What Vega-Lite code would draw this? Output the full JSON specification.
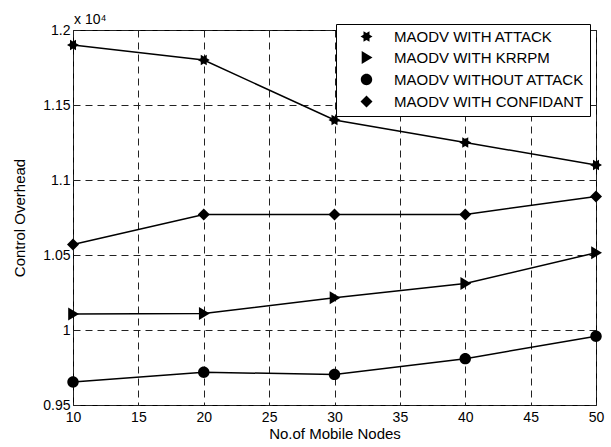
{
  "$schema": "https://vega.github.io/schema/vega-lite/v6.json",
  "width": 523,
  "height": 375,
  "autosize": {"type": "none"},
  "padding": {"left": 73, "top": 30, "right": 15, "bottom": 42},
  "background": "white",
  "title": {"text": "x 10⁴", "anchor": "start", "frame": "group", "fontSize": 14, "font": "Liberation Sans", "fontWeight": "normal", "color": "black", "offset": 1, "dx": 1, "dy": 5},
  "data": {"values": [
    {"series": "MAODV WITH ATTACK", "nodes": 10, "overhead": 11900},
    {"series": "MAODV WITH ATTACK", "nodes": 20, "overhead": 11800},
    {"series": "MAODV WITH ATTACK", "nodes": 30, "overhead": 11400},
    {"series": "MAODV WITH ATTACK", "nodes": 40, "overhead": 11250},
    {"series": "MAODV WITH ATTACK", "nodes": 50, "overhead": 11100},
    {"series": "MAODV WITH KRRPM", "nodes": 10, "overhead": 10107},
    {"series": "MAODV WITH KRRPM", "nodes": 20, "overhead": 10110},
    {"series": "MAODV WITH KRRPM", "nodes": 30, "overhead": 10215},
    {"series": "MAODV WITH KRRPM", "nodes": 40, "overhead": 10310},
    {"series": "MAODV WITH KRRPM", "nodes": 50, "overhead": 10515},
    {"series": "MAODV WITHOUT ATTACK", "nodes": 10, "overhead": 9653},
    {"series": "MAODV WITHOUT ATTACK", "nodes": 20, "overhead": 9718},
    {"series": "MAODV WITHOUT ATTACK", "nodes": 30, "overhead": 9704},
    {"series": "MAODV WITHOUT ATTACK", "nodes": 40, "overhead": 9809},
    {"series": "MAODV WITHOUT ATTACK", "nodes": 50, "overhead": 9958},
    {"series": "MAODV WITH CONFIDANT", "nodes": 10, "overhead": 10570},
    {"series": "MAODV WITH CONFIDANT", "nodes": 20, "overhead": 10770},
    {"series": "MAODV WITH CONFIDANT", "nodes": 30, "overhead": 10770},
    {"series": "MAODV WITH CONFIDANT", "nodes": 40, "overhead": 10770},
    {"series": "MAODV WITH CONFIDANT", "nodes": 50, "overhead": 10890}
  ]},
  "encoding": {
    "x": {"field": "nodes", "type": "quantitative", "scale": {"domain": [10, 50], "nice": false, "zero": false},
      "axis": {"title": "No.of Mobile Nodes", "values": [10, 15, 20, 25, 30, 35, 40, 45, 50], "labelFlush": false, "labelOverlap": false, "labelPadding": 5, "titlePadding": 2}},
    "y": {"field": "overhead", "type": "quantitative", "scale": {"domain": [9500, 12000], "nice": false, "zero": false},
      "axis": {"title": "Control Overhead", "values": [9500, 10000, 10500, 11000, 11500, 12000], "labelExpr": "format(datum.value/10000, '~g')", "labelFlush": false, "labelOverlap": false, "labelPadding": 3, "titlePadding": 15}}
  },
  "layer": [
    {"mark": {"type": "line", "color": "black", "strokeWidth": 1.5}, "encoding": {"detail": {"field": "series"}}},
    {"transform": [{"filter": "datum.series === 'MAODV WITH ATTACK'"}],
      "mark": {"type": "point", "filled": true, "color": "black", "size": 144, "opacity": 1, "strokeWidth": 1,
        "shape": "M1,0L0.5,0.289L0.5,0.866L0,0.577L-0.5,0.866L-0.5,0.289L-1,0L-0.5,-0.289L-0.5,-0.866L0,-0.577L0.5,-0.866L0.5,-0.289Z"}},
    {"transform": [{"filter": "datum.series === 'MAODV WITH KRRPM'"}],
      "mark": {"type": "point", "filled": true, "color": "black", "size": 144, "opacity": 1, "strokeWidth": 1,
        "shape": "M-0.8,-1.08L1,0L-0.8,1.08Z"}},
    {"transform": [{"filter": "datum.series === 'MAODV WITHOUT ATTACK'"}],
      "mark": {"type": "point", "filled": true, "color": "black", "size": 144, "opacity": 1, "strokeWidth": 1,
        "shape": "M-0.95,0A0.95,0.95 0 1,0 0.95,0A0.95,0.95 0 1,0 -0.95,0Z"}},
    {"transform": [{"filter": "datum.series === 'MAODV WITH CONFIDANT'"}],
      "mark": {"type": "point", "filled": true, "color": "black", "size": 144, "opacity": 1, "strokeWidth": 1,
        "shape": "M0,-1L1,0L0,1L-1,0Z"}},
    {"mark": {"type": "point", "filled": false, "color": "black", "fill": "black", "stroke": "black", "size": 0, "opacity": 1, "strokeWidth": 1.5},
      "encoding": {"shape": {"field": "series", "type": "nominal",
        "scale": {"domain": ["MAODV WITH ATTACK", "MAODV WITH KRRPM", "MAODV WITHOUT ATTACK", "MAODV WITH CONFIDANT"],
          "range": ["M-4,0L4,0M1,0L0.5,0.289L0.5,0.866L0,0.577L-0.5,0.866L-0.5,0.289L-1,0L-0.5,-0.289L-0.5,-0.866L0,-0.577L0.5,-0.866L0.5,-0.289Z",
                    "M-4,0L4,0M-0.8,-1.08L1,0L-0.8,1.08Z",
                    "M-4,0L4,0M-0.95,0A0.95,0.95 0 1,0 0.95,0A0.95,0.95 0 1,0 -0.95,0Z",
                    "M-4,0L4,0M0,-1L1,0L0,1L-1,0Z"]},
        "legend": {
          "orient": "none", "legendX": 263, "legendY": -6, "title": null,
          "padding": 5, "strokeColor": "black", "fillColor": "white",
          "symbolSize": 144, "symbolOpacity": 1, "symbolOffset": 18, "labelOffset": 20,
          "labelFont": "Liberation Sans", "labelFontSize": 15, "labelColor": "black", "labelLimit": 400,
          "rowPadding": 3, "symbolFillColor": "black", "symbolStrokeColor": "black", "symbolStrokeWidth": 1.5,
          "encode": {"symbols": {"update": {"stroke": {"value": "black"}, "strokeOpacity": {"value": 1}, "strokeWidth": {"value": 1.5}}}}}}}}
  ],
  "config": {
    "view": {"stroke": "black", "strokeWidth": 1},
    "axis": {"labelFont": "Liberation Sans", "labelFontSize": 14, "labelColor": "black", "titleFont": "Liberation Sans", "titleFontSize": 15, "titleFontWeight": "normal", "titleColor": "black",
      "grid": true, "gridColor": "#222222", "gridDash": [7, 5], "gridWidth": 1, "gridOpacity": 1, "ticks": false, "domain": false}
  }
}
